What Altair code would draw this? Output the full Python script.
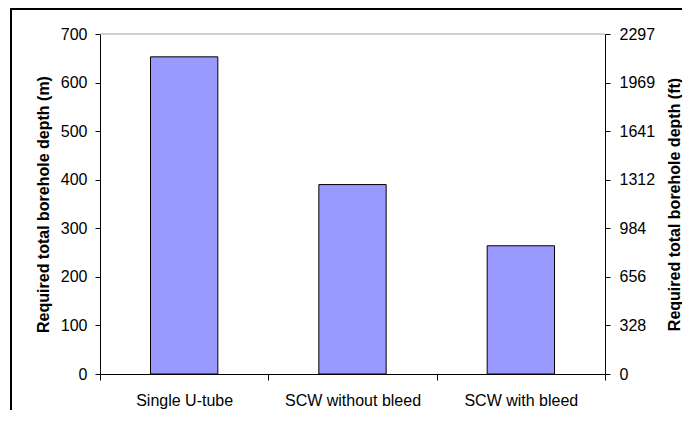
import altair as alt
import pandas as pd

categories = ["Single U-tube", "SCW without bleed", "SCW with bleed"]
depth_m = [653, 390, 264]
left_ticks = [0, 100, 200, 300, 400, 500, 600, 700]
right_ticks = [0, 328, 656, 984, 1312, 1641, 1969, 2297]
M_TO_FT = 3.28084

df = pd.DataFrame({
    "cat": categories,
    "m": depth_m,
    "ft": [v * M_TO_FT for v in depth_m],
})
one = pd.DataFrame({"v": [700]})

FONT = "Liberation Sans"

x_enc = alt.X(
    "cat:N", sort=categories,
    scale=alt.Scale(paddingInner=0, paddingOuter=0),
    axis=alt.Axis(title=None, labelAngle=0, tickBand="extent", tickSize=6,
                  labelPadding=12, domainColor="black", tickColor="black"),
)

bars = alt.Chart(df).mark_bar(
    width=alt.RelativeBandSize(0.4), fill="#9999FF", stroke="black", strokeWidth=1
).encode(
    x=x_enc,
    y=alt.Y("m:Q", scale=alt.Scale(domain=[0, 700], nice=False),
            axis=alt.Axis(values=left_ticks, title="Required total borehole depth (m)",
                          grid=False, tickSize=5, labelPadding=8, titlePadding=9,
                          domainColor="black", tickColor="black")),
)

top_line = alt.Chart(one).mark_rule(color="#a0a0a0", strokeWidth=1).encode(y="v:Q")

frame_top = alt.Chart(one).mark_rule(color="black", strokeWidth=2).encode(
    x=alt.value(-89), x2=alt.value(582), y=alt.value(-25))
frame_left = alt.Chart(one).mark_rule(color="black", strokeWidth=2).encode(
    x=alt.value(-89), y=alt.value(-26), y2=alt.value(400))

left = alt.layer(bars, top_line, frame_top, frame_left)

right = alt.Chart(df).mark_bar(width=alt.RelativeBandSize(0.4), opacity=0).encode(
    x=x_enc,
    y=alt.Y("ft:Q", scale=alt.Scale(domain=[0, 2297], nice=False),
            axis=alt.Axis(orient="right", values=right_ticks, format="d",
                          title="Required total borehole depth (ft)", titleAngle=270,
                          titleBaseline="top",
                          grid=False, tickSize=5, labelPadding=9, titlePadding=12,
                          domainColor="black", tickColor="black")),
)

chart = alt.layer(left, right).resolve_scale(y="independent").properties(
    width=505, height=340,
    autosize=alt.AutoSizeParams(type="none"),
    padding={"left": 92, "top": 26, "right": 77, "bottom": 36},
).configure_view(stroke=None).configure_axis(
    labelFont=FONT, labelFontSize=16, labelColor="black",
    titleFont=FONT, titleFontSize=16, titleFontWeight="bold", titleColor="black",
)

chart.save("out.html", embed_options={"renderer": "svg", "actions": False})
